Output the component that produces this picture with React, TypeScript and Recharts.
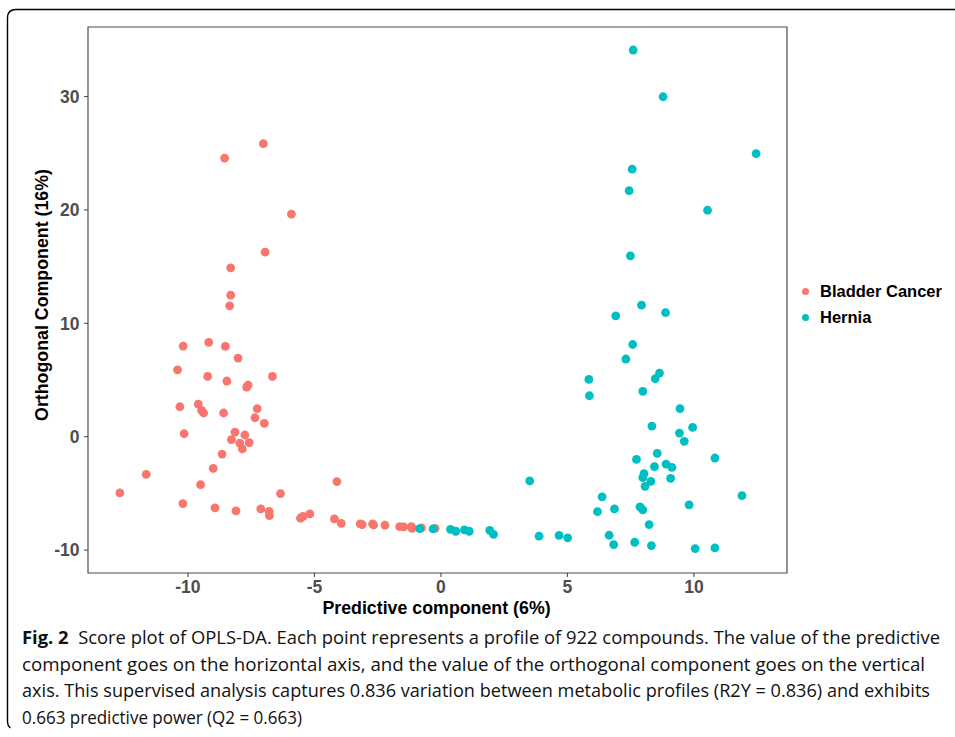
import React from "react";
import { ScatterChart, Scatter, XAxis, YAxis, ReferenceArea } from "recharts";

const seriesNames = ["Bladder Cancer", "Hernia"];
const seriesColors = ["#F8766D", "#00BFC4"];

const xTicks = [-10, -5, 0, 5, 10];
const yTicks = [-10, 0, 10, 20, 30];
const xDomain: [number, number] = [-13.95, 13.68];
const yDomain: [number, number] = [-12.02, 36.13];

const xTitle = "Predictive component (6%)";
const yTitle = "Orthogonal Component (16%)";

const bladderCancer = [
  { x: -7.02, y: 25.84 }, { x: -8.55, y: 24.56 }, { x: -5.91, y: 19.62 }, { x: -6.95, y: 16.27 },
  { x: -8.31, y: 14.89 }, { x: -8.31, y: 12.48 }, { x: -8.35, y: 11.54 },
  { x: -10.19, y: 7.99 }, { x: -9.18, y: 8.31 }, { x: -8.52, y: 7.96 }, { x: -8.02, y: 6.93 },
  { x: -10.41, y: 5.9 }, { x: -9.22, y: 5.31 }, { x: -8.46, y: 4.91 }, { x: -7.68, y: 4.38 },
  { x: -7.62, y: 4.55 }, { x: -6.66, y: 5.31 }, { x: -10.32, y: 2.64 }, { x: -9.59, y: 2.88 },
  { x: -9.46, y: 2.32 }, { x: -9.38, y: 2.09 }, { x: -8.59, y: 2.09 }, { x: -7.26, y: 2.47 },
  { x: -7.35, y: 1.67 }, { x: -6.98, y: 1.17 }, { x: -10.15, y: 0.26 }, { x: -8.14, y: 0.41 },
  { x: -7.75, y: 0.15 }, { x: -8.28, y: -0.26 }, { x: -7.95, y: -0.56 }, { x: -7.58, y: -0.53 },
  { x: -7.85, y: -1.08 }, { x: -8.65, y: -1.53 }, { x: -9.0, y: -2.79 }, { x: -11.65, y: -3.32 },
  { x: -9.5, y: -4.23 }, { x: -12.69, y: -4.96 }, { x: -6.34, y: -5.02 }, { x: -10.2, y: -5.9 },
  { x: -8.93, y: -6.28 }, { x: -8.1, y: -6.55 }, { x: -7.12, y: -6.37 }, { x: -6.79, y: -6.58 },
  { x: -6.78, y: -6.96 }, { x: -5.55, y: -7.19 }, { x: -5.45, y: -7.02 }, { x: -5.18, y: -6.81 },
  { x: -4.11, y: -3.96 }, { x: -4.21, y: -7.25 }, { x: -3.94, y: -7.64 }, { x: -3.19, y: -7.69 },
  { x: -3.11, y: -7.75 }, { x: -2.7, y: -7.69 }, { x: -2.66, y: -7.78 }, { x: -2.21, y: -7.81 },
  { x: -1.63, y: -7.93 }, { x: -1.47, y: -7.96 }, { x: -1.17, y: -7.93 }, { x: -1.14, y: -8.08 },
  { x: -0.77, y: -8.04 }, { x: -0.23, y: -8.08 },
];

const hernia = [
  { x: 7.6, y: 34.1 }, { x: 8.78, y: 29.98 }, { x: 12.46, y: 24.96 }, { x: 7.56, y: 23.59 },
  { x: 7.44, y: 21.7 }, { x: 10.54, y: 19.97 }, { x: 7.49, y: 15.95 },
  { x: 7.93, y: 11.6 }, { x: 6.91, y: 10.66 }, { x: 8.88, y: 10.95 }, { x: 7.58, y: 8.13 },
  { x: 7.31, y: 6.85 }, { x: 8.64, y: 5.61 }, { x: 8.47, y: 5.11 }, { x: 5.85, y: 5.05 },
  { x: 5.87, y: 3.61 }, { x: 7.98, y: 3.99 }, { x: 9.45, y: 2.47 }, { x: 8.34, y: 0.94 },
  { x: 9.95, y: 0.82 }, { x: 9.43, y: 0.32 }, { x: 9.62, y: -0.41 }, { x: 8.55, y: -1.47 },
  { x: 10.83, y: -1.88 }, { x: 7.73, y: -2.0 }, { x: 8.9, y: -2.41 }, { x: 9.13, y: -2.7 },
  { x: 8.44, y: -2.64 }, { x: 8.03, y: -3.26 }, { x: 7.98, y: -3.61 }, { x: 9.08, y: -3.67 },
  { x: 8.3, y: -3.94 }, { x: 8.07, y: -4.38 }, { x: 3.51, y: -3.9 }, { x: 11.9, y: -5.2 },
  { x: 6.37, y: -5.31 }, { x: 9.81, y: -6.02 }, { x: 6.19, y: -6.61 }, { x: 6.86, y: -6.37 },
  { x: 7.87, y: -6.19 }, { x: 7.98, y: -6.46 }, { x: 8.23, y: -7.75 }, { x: 3.88, y: -8.77 },
  { x: 4.67, y: -8.71 }, { x: 5.01, y: -8.92 }, { x: 6.65, y: -8.69 }, { x: 6.83, y: -9.51 },
  { x: 7.66, y: -9.31 }, { x: 8.32, y: -9.6 }, { x: 10.05, y: -9.87 }, { x: 10.83, y: -9.81 },
  { x: -0.84, y: -8.11 }, { x: -0.31, y: -8.13 }, { x: 0.38, y: -8.17 }, { x: 0.59, y: -8.34 },
  { x: 0.93, y: -8.22 }, { x: 1.12, y: -8.34 }, { x: 1.93, y: -8.26 }, { x: 2.08, y: -8.61 },
];

const captionLines = [
  { bold: "Fig. 2", text: "  Score plot of OPLS-DA. Each point represents a profile of 922 compounds. The value of the predictive", width: 918 },
  { bold: "", text: "component goes on the horizontal axis, and the value of the orthogonal component goes on the vertical", width: 903 },
  { bold: "", text: "axis. This supervised analysis captures 0.836 variation between metabolic profiles (R2Y = 0.836) and exhibits", width: 908 },
  { bold: "", text: "0.663 predictive power (Q2 = 0.663)", width: 280 },
];

const FONT = "'Liberation Sans', Arial, Helvetica, sans-serif";

const makeDot = (color: string) => (props: any) => (
  <circle cx={props.cx} cy={props.cy} r={4.4} fill={color} />
);

export default function App() {
  return (
    <div style={{ position: "fixed", left: 0, top: 0, width: 955, height: 737, overflow: "hidden", background: "#fff" }}>
      <svg style={{ position: "absolute", left: 0, top: 0 }} width={955} height={737}>
        <path d="M 960 9.5 H 16 Q 7.5 9.5 7.5 18 V 721 Q 7.5 726 10.5 728" fill="none" stroke="#000" strokeWidth={1.4} />
      </svg>
      <div style={{ position: "absolute", left: 0, top: 0 }}>
        <ScatterChart width={955} height={640} margin={{ top: 27, right: 168, bottom: 0, left: 0 }}>
          <XAxis
            type="number"
            dataKey="x"
            domain={xDomain}
            ticks={xTicks}
            allowDataOverflow
            axisLine={false}
            tickSize={4}
            tickMargin={4}
            height={67}
            tickLine={{ stroke: "#4d4d4d", strokeWidth: 1.1 }}
            tick={{ fill: "#4d4d4d", fontSize: 17.5, fontWeight: "bold", fontFamily: FONT }}
            label={{
              content: (p: any) => {
                const vb = p.viewBox;
                return (
                  <text
                    x={vb.x + vb.width / 2 - 1}
                    y={614}
                    textAnchor="middle"
                    fontSize={17.8}
                    fontWeight="bold"
                    fontFamily={FONT}
                    fill="#000"
                  >
                    {xTitle}
                  </text>
                );
              },
            }}
          />
          <YAxis
            type="number"
            dataKey="y"
            domain={yDomain}
            ticks={yTicks}
            allowDataOverflow
            axisLine={false}
            width={88}
            tickSize={4}
            tickMargin={4.5}
            tickLine={{ stroke: "#4d4d4d", strokeWidth: 1.1 }}
            tick={{ fill: "#4d4d4d", fontSize: 17.5, fontWeight: "bold", fontFamily: FONT }}
            label={{
              content: (p: any) => {
                const vb = p.viewBox;
                const cy = vb.y + vb.height / 2 - 5;
                return (
                  <text
                    x={48}
                    y={cy}
                    transform={`rotate(-90, 48, ${cy})`}
                    textAnchor="middle"
                    fontSize={17.8}
                    fontWeight="bold"
                    fontFamily={FONT}
                    fill="#000"
                  >
                    {yTitle}
                  </text>
                );
              },
            }}
          />
          <ReferenceArea
            x1={xDomain[0]}
            x2={xDomain[1]}
            y1={yDomain[0]}
            y2={yDomain[1]}
            fill="none"
            stroke="#4d4d4d"
            strokeWidth={1.2}
            ifOverflow="visible"
          />
          <Scatter name={seriesNames[0]} data={bladderCancer} fill={seriesColors[0]} shape={makeDot(seriesColors[0])} isAnimationActive={false} />
          <Scatter name={seriesNames[1]} data={hernia} fill={seriesColors[1]} shape={makeDot(seriesColors[1])} isAnimationActive={false} />
        </ScatterChart>
      </div>
      <div style={{ position: "absolute", left: 802, top: 278, fontFamily: FONT, fontWeight: "bold", fontSize: 16.5, color: "#000" }}>
        {seriesNames.map((n, i) => (
          <div key={n} style={{ display: "flex", alignItems: "center", height: 26 }}>
            <span style={{ display: "inline-block", width: 7, height: 7, borderRadius: "50%", background: seriesColors[i], marginRight: 11 }} />
            <span>{n}</span>
          </div>
        ))}
      </div>
      <svg style={{ position: "absolute", left: 0, top: 620 }} width={955} height={117}>
        {captionLines.map((l, i) => (
          <text
            key={i}
            x={22}
            y={24 + i * 26.7}
            fontSize={18.5}
            fontFamily="'Open Sans', 'Liberation Sans', sans-serif"
            fill="#111"
            textLength={l.width}
            lengthAdjust="spacingAndGlyphs"
            xmlSpace="preserve"
          >
            {l.bold ? <tspan fontWeight="bold">{l.bold}</tspan> : null}
            <tspan>{l.text}</tspan>
          </text>
        ))}
      </svg>
    </div>
  );
}
